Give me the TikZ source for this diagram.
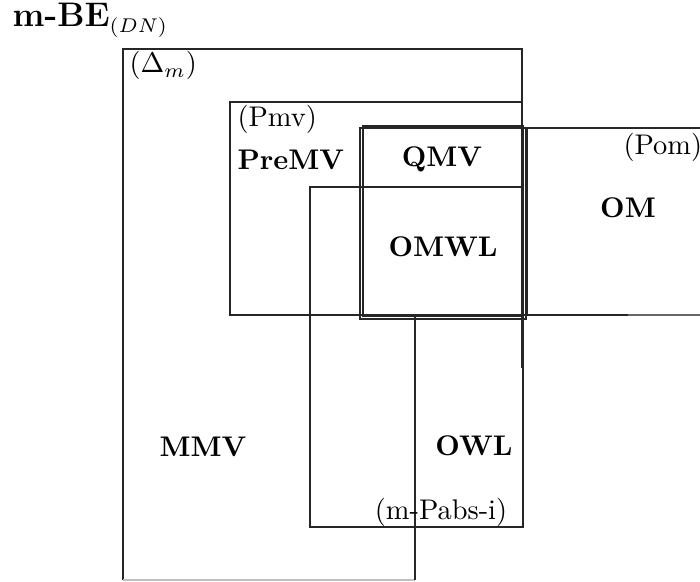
\documentclass[tikz,border=0pt]{standalone}
\begin{document}
\begin{tikzpicture}[x=0.3521pt,y=-0.3521pt,
  frame/.style={draw=black!85,line width=0.42pt},
  faint/.style={draw=black!25,line width=0.42pt},
  lbl/.style={inner sep=0pt,anchor=base west},
  cl/.style={inner sep=0pt,anchor=base,font=\bfseries}]
\useasboundingbox (0,0) rectangle (700,582);
% Delta_m region
\draw[frame] (123,580) -- (123,49) -- (522,49) -- (522,368);
\draw[faint] (123,580) -- (415,580);
\draw[frame] (415,315) -- (415,580);
% Pmv box
\draw[frame] (230,316) -- (230,102) -- (522,102);
\draw[frame] (230,315) -- (628,315);
\draw[draw=black!60,line width=0.42pt] (628,315) -- (700,315);
% Pom box
\draw[frame] (527,315) -- (527,128) -- (700,128);
% double box QMV / OMWL
\draw[frame] (363,126) rectangle (523,316);
\draw[frame] (360,128) rectangle (526,319);
% m-Pabs-i box
\draw[frame] (310,187) rectangle (523,527);
% labels
\node[lbl] (mbe) at (12,27) {\textbf{\large m-BE}$_{(DN)}$};
\node[lbl] (dm) at (129,73) {($\Delta_m$)};
\node[lbl] (pmv) at (237,127) {(Pmv)};
\node[lbl,font=\bfseries] (premv) at (237,170) {PreMV};
\node[cl] (qmv) at (442,167) {QMV};
\node[lbl] (pom) at (623,155) {(Pom)};
\node[cl] (om) at (628,218) {OM};
\node[cl] (omwl) at (443,257) {OMWL};
\node[cl] (mmv) at (203,457) {MMV};
\node[cl] (owl) at (474,456) {OWL};
\node[inner sep=0pt,anchor=base] (pabs) at (441,520) {(m-Pabs-i)};
\end{tikzpicture}
\end{document}
